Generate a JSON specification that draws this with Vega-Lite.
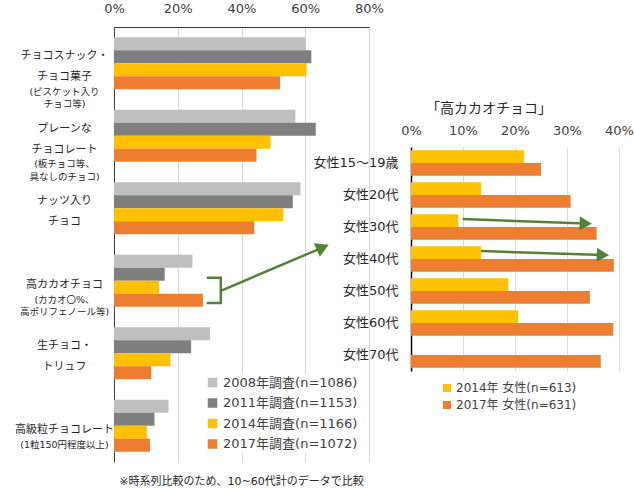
{
  "$schema": "https://vega.github.io/schema/vega-lite/v6.json",
  "padding": {"left": 14, "top": 2, "right": 0, "bottom": 0},
  "background": "white",
  "config": {
    "font": "DejaVu Sans, Noto Sans CJK JP",
    "view": {"stroke": null},
    "axis": {"labelFont": "DejaVu Sans, Noto Sans CJK JP", "gridColor": "#D9D9D9", "gridWidth": 1, "labelColor": "#404040"},
    "legend": {"labelFont": "DejaVu Sans, Noto Sans CJK JP", "labelColor": "#404040"},
    "title": {"font": "DejaVu Sans, Noto Sans CJK JP", "fontWeight": "normal", "color": "#262626"}
  },
  "datasets": {
    "left": [
      {"cat": "チョコスナック・|チョコ菓子#(ビスケット入り|チョコ等)", "s": "2008年調査(n=1086)", "v": 60.1},
      {"cat": "チョコスナック・|チョコ菓子#(ビスケット入り|チョコ等)", "s": "2011年調査(n=1153)", "v": 61.9},
      {"cat": "チョコスナック・|チョコ菓子#(ビスケット入り|チョコ等)", "s": "2014年調査(n=1166)", "v": 60.4},
      {"cat": "チョコスナック・|チョコ菓子#(ビスケット入り|チョコ等)", "s": "2017年調査(n=1072)", "v": 52.1},
      {"cat": "プレーンな|チョコレート#(板チョコ等、|具なしのチョコ)", "s": "2008年調査(n=1086)", "v": 56.9},
      {"cat": "プレーンな|チョコレート#(板チョコ等、|具なしのチョコ)", "s": "2011年調査(n=1153)", "v": 63.3},
      {"cat": "プレーンな|チョコレート#(板チョコ等、|具なしのチョコ)", "s": "2014年調査(n=1166)", "v": 49.1},
      {"cat": "プレーンな|チョコレート#(板チョコ等、|具なしのチョコ)", "s": "2017年調査(n=1072)", "v": 44.7},
      {"cat": "ナッツ入り|チョコ#", "s": "2008年調査(n=1086)", "v": 58.5},
      {"cat": "ナッツ入り|チョコ#", "s": "2011年調査(n=1153)", "v": 56.1},
      {"cat": "ナッツ入り|チョコ#", "s": "2014年調査(n=1166)", "v": 53.1},
      {"cat": "ナッツ入り|チョコ#", "s": "2017年調査(n=1072)", "v": 44.0},
      {"cat": "高カカオチョコ#(カカオ〇%、|高ポリフェノール等)", "s": "2008年調査(n=1086)", "v": 24.6},
      {"cat": "高カカオチョコ#(カカオ〇%、|高ポリフェノール等)", "s": "2011年調査(n=1153)", "v": 15.9},
      {"cat": "高カカオチョコ#(カカオ〇%、|高ポリフェノール等)", "s": "2014年調査(n=1166)", "v": 14.1},
      {"cat": "高カカオチョコ#(カカオ〇%、|高ポリフェノール等)", "s": "2017年調査(n=1072)", "v": 27.9},
      {"cat": "生チョコ・|トリュフ#", "s": "2008年調査(n=1086)", "v": 30.1},
      {"cat": "生チョコ・|トリュフ#", "s": "2011年調査(n=1153)", "v": 24.2},
      {"cat": "生チョコ・|トリュフ#", "s": "2014年調査(n=1166)", "v": 17.7},
      {"cat": "生チョコ・|トリュフ#", "s": "2017年調査(n=1072)", "v": 11.7},
      {"cat": "高級粒チョコレート#(1粒150円程度以上)", "s": "2008年調査(n=1086)", "v": 17.1},
      {"cat": "高級粒チョコレート#(1粒150円程度以上)", "s": "2011年調査(n=1153)", "v": 12.7},
      {"cat": "高級粒チョコレート#(1粒150円程度以上)", "s": "2014年調査(n=1166)", "v": 10.3},
      {"cat": "高級粒チョコレート#(1粒150円程度以上)", "s": "2017年調査(n=1072)", "v": 11.3}
    ],
    "right": [
      {"age": "女性15～19歳", "s": "2014年 女性(n=613)", "v": 21.7},
      {"age": "女性15～19歳", "s": "2017年 女性(n=631)", "v": 25.0},
      {"age": "女性20代", "s": "2014年 女性(n=613)", "v": 13.5},
      {"age": "女性20代", "s": "2017年 女性(n=631)", "v": 30.7},
      {"age": "女性30代", "s": "2014年 女性(n=613)", "v": 9.1},
      {"age": "女性30代", "s": "2017年 女性(n=631)", "v": 35.7},
      {"age": "女性40代", "s": "2014年 女性(n=613)", "v": 13.5},
      {"age": "女性40代", "s": "2017年 女性(n=631)", "v": 39.0},
      {"age": "女性50代", "s": "2014年 女性(n=613)", "v": 18.7},
      {"age": "女性50代", "s": "2017年 女性(n=631)", "v": 34.4},
      {"age": "女性60代", "s": "2014年 女性(n=613)", "v": 20.6},
      {"age": "女性60代", "s": "2017年 女性(n=631)", "v": 38.9},
      {"age": "女性70代", "s": "2017年 女性(n=631)", "v": 36.5}
    ],
    "bracket": [
      {"x": 29.1, "y": 3.46, "o": 1},
      {"x": 33.5, "y": 3.46, "o": 2},
      {"x": 33.5, "y": 3.807, "o": 3},
      {"x": 29.1, "y": 3.807, "o": 4}
    ],
    "arrowL": [
      {"x": 33.5, "y": 3.64},
      {"x": 65.5, "y": 3.04}
    ],
    "headL": [
      {"x": 65.5, "y": 3.04}
    ],
    "arrowR": [
      {"id": "a", "x": 9.94, "y": 2.25},
      {"id": "a", "x": 33.6, "y": 2.39},
      {"id": "b", "x": 13.46, "y": 3.25},
      {"id": "b", "x": 36.9, "y": 3.375}
    ],
    "headR": [
      {"x": 33.6, "y": 2.39},
      {"x": 36.9, "y": 3.375}
    ]
  },
  "bounds": "flush",
  "spacing": 42,
  "resolve": {
    "scale": {"color": "independent", "yOffset": "independent"},
    "legend": {"color": "independent"}
  },
  "hconcat": [
    {
      "width": 255,
      "height": 435,
      "title": {"text": "※時系列比較のため、10~60代計のデータで比較", "orient": "bottom", "fontSize": 11, "offset": 14, "color": "#262626"},
      "layer": [
        {
          "data": {"name": "left"},
          "mark": {"type": "bar"},
          "encoding": {
            "y": {
              "field": "cat", "type": "nominal", "sort": null,
              "scale": {"paddingInner": 0.28, "paddingOuter": 0.14},
              "axis": {
                "orient": "left", "title": null, "ticks": false, "tickSize": 0,
                "labelExpr": "split(split(datum.value, '#')[0], '|')",
                "labelFontSize": 11, "labelLineHeight": 21, "labelAlign": "center", "labelBaseline": "middle",
                "labelOffset": {"condition": {"test": "indexof(split(datum.value, '#')[0], '|') >= 0", "value": -7}, "value": 4.5},
                "labelPadding": 50, "labelColor": "#262626", "labelOverlap": false,
                "domainColor": "#404040", "domainWidth": 1, "grid": false
              }
            },
            "yOffset": {"field": "s", "type": "nominal", "sort": null},
            "x": {
              "field": "v", "type": "quantitative", "title": null,
              "scale": {"domain": [0, 80]},
              "axis": {
                "orient": "top", "values": [0, 20, 40, 60, 80], "labelExpr": "datum.value + '%'",
                "domain": true, "domainColor": "#404040", "ticks": false, "tickSize": 0, "labelPadding": 12,
                "labelFontSize": 13, "grid": true, "labelFlush": false
              }
            },
            "color": {
              "field": "s", "type": "nominal", "sort": null,
              "scale": {
                "domain": ["2008年調査(n=1086)", "2011年調査(n=1153)", "2014年調査(n=1166)", "2017年調査(n=1072)"],
                "range": ["#BFBFBF", "#7F7F7F", "#FFC000", "#ED7D31"]
              },
              "legend": {
                "title": null, "orient": "bottom-right", "offset": 9, "fillColor": "white", "padding": 2,
                "labelFontSize": 13, "symbolType": "square", "symbolSize": 90, "symbolStrokeWidth": 0,
                "rowPadding": 6.5, "labelOffset": 4, "labelLimit": 300
              }
            }
          }
        },
        {
          "data": {"name": "left"},
          "mark": {"type": "point", "opacity": 0},
          "encoding": {
            "y": {
              "field": "cat", "type": "nominal", "sort": null,
              "scale": {"paddingInner": 0.28, "paddingOuter": 0.14},
              "axis": {
                "orient": "left", "title": null, "ticks": false, "tickSize": 0, "domain": false, "grid": false,
                "labelExpr": "split(split(datum.value, '#')[1], '|')",
                "labelFontSize": 9.5, "labelLineHeight": 12.5, "labelAlign": "center", "labelBaseline": "top",
                "labelOffset": {"condition": {"test": "indexof(split(datum.value, '#')[0], '|') >= 0", "value": 23}, "value": 13.5},
                "labelPadding": 50, "labelColor": "#262626", "labelOverlap": false
              }
            }
          }
        },
        {
          "data": {"name": "bracket"},
          "mark": {"type": "line", "color": "#548235", "strokeWidth": 2.5, "clip": false},
          "encoding": {
            "x": {"field": "x", "type": "quantitative", "title": null},
            "y": {"field": "y", "type": "quantitative", "scale": {"domain": [0, 6], "reverse": true, "nice": false, "zero": false}, "axis": null},
            "order": {"field": "o", "type": "quantitative"}
          }
        },
        {
          "data": {"name": "arrowL"},
          "mark": {"type": "line", "color": "#548235", "strokeWidth": 2.5, "clip": false},
          "encoding": {
            "x": {"field": "x", "type": "quantitative", "title": null},
            "y": {"field": "y", "type": "quantitative", "scale": {"domain": [0, 6], "reverse": true, "nice": false, "zero": false}, "axis": null}
          }
        },
        {
          "data": {"name": "headL"},
          "mark": {"type": "point", "shape": "triangle-right", "angle": 336.5, "size": 220, "filled": true, "color": "#548235", "opacity": 1, "clip": false},
          "encoding": {
            "x": {"field": "x", "type": "quantitative", "title": null},
            "y": {"field": "y", "type": "quantitative", "scale": {"domain": [0, 6], "reverse": true, "nice": false, "zero": false}, "axis": null}
          }
        }
      ],
      "resolve": {"scale": {"y": "independent"}, "axis": {"y": "independent"}}
    },
    {
      "bounds": "flush",
      "spacing": 0,
      "vconcat": [
        {
          "width": 208,
          "height": 120,
          "data": {"values": []},
          "mark": {"type": "point", "opacity": 0},
          "encoding": {}
        },
        {
          "width": 208,
          "height": 224,
          "title": {"text": "「高カカオチョコ」", "fontSize": 14, "dx": -26, "offset": 8},
          "layer": [
            {
              "data": {"name": "right"},
              "mark": {"type": "bar"},
              "encoding": {
                "y": {
                  "field": "age", "type": "nominal", "sort": null,
                  "scale": {"paddingInner": 0.2, "paddingOuter": 0.1},
                  "axis": {
                    "title": null, "ticks": false, "tickSize": 0, "labelFontSize": 13, "labelPadding": 13,
                    "labelColor": "#262626", "domainColor": "#000000", "domainWidth": 1.5, "grid": false
                  }
                },
                "yOffset": {"field": "s", "type": "nominal", "sort": null},
                "x": {
                  "field": "v", "type": "quantitative", "title": null,
                  "scale": {"domain": [0, 40]},
                  "axis": {
                    "orient": "top", "values": [0, 10, 20, 30, 40], "labelExpr": "datum.value + '%'",
                    "domain": false, "ticks": false, "tickSize": 0, "labelPadding": 10, "labelFontSize": 13, "grid": true,
                    "labelFlush": false
                  }
                },
                "color": {
                  "field": "s", "type": "nominal", "sort": null,
                  "scale": {"domain": ["2014年 女性(n=613)", "2017年 女性(n=631)"], "range": ["#FFC000", "#ED7D31"]},
                  "legend": {
                    "title": null, "orient": "bottom", "direction": "vertical", "offset": -19, "padding": 30,
                    "labelFontSize": 12, "symbolType": "square", "symbolSize": 64, "symbolStrokeWidth": 0,
                    "rowPadding": 5, "labelOffset": 3, "labelLimit": 300
                  }
                }
              }
            },
            {
              "data": {"name": "arrowR"},
              "mark": {"type": "line", "color": "#548235", "strokeWidth": 2.5, "clip": false},
              "encoding": {
                "x": {"field": "x", "type": "quantitative", "title": null},
                "y": {"field": "y", "type": "quantitative", "scale": {"domain": [0, 7], "reverse": true, "nice": false, "zero": false}, "axis": null},
                "detail": {"field": "id", "type": "nominal"}
              }
            },
            {
              "data": {"name": "headR"},
              "mark": {"type": "point", "shape": "triangle-right", "angle": 2, "size": 200, "filled": true, "color": "#548235", "opacity": 1, "clip": false},
              "encoding": {
                "x": {"field": "x", "type": "quantitative", "title": null},
                "y": {"field": "y", "type": "quantitative", "scale": {"domain": [0, 7], "reverse": true, "nice": false, "zero": false}, "axis": null}
              }
            }
          ],
          "resolve": {"scale": {"y": "independent"}, "axis": {"y": "independent"}}
        }
      ]
    }
  ]
}
